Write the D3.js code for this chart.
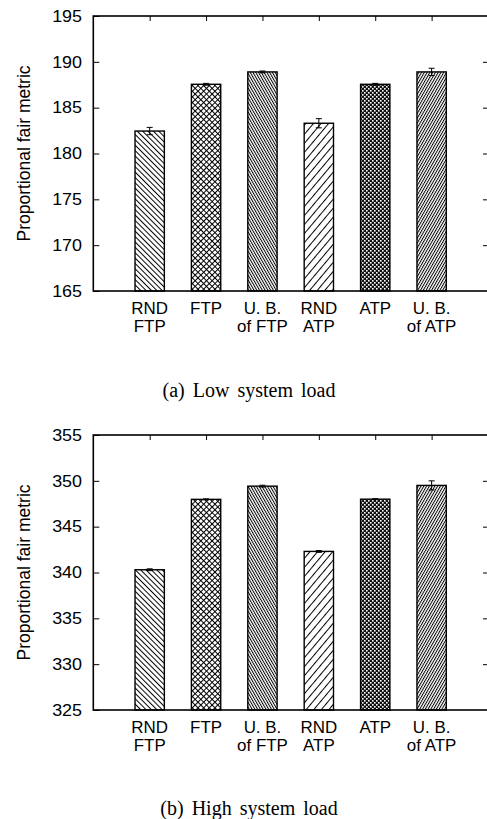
<!DOCTYPE html>
<html>
<head>
<meta charset="utf-8">
<script src="https://cdn.jsdelivr.net/npm/d3@7"></script>
<style>
  body { margin: 0; background: #fff; }
  svg { display: block; }
</style>
</head>
<body>
<svg id="chart"></svg>
<script>
// categories (two-line tick labels)
const categories = [
  ['RND', 'FTP'], ['FTP'], ['U. B.', 'of FTP'], ['RND', 'ATP'], ['ATP'], ['U. B.', 'of ATP']
];
const patterns = ['bsl', 'cross', 'bslDense', 'fsl', 'checker', 'fslDense'];

// low system load
const lowValues = [182.45, 187.55, 188.9, 183.3, 187.55, 188.9];
const lowErrors = [0.4, 0.1, 0.1, 0.5, 0.1, 0.4];
const lowTicks = [165, 170, 175, 180, 185, 190, 195];

// high system load
const highValues = [340.3, 347.98, 349.42, 342.3, 348.0, 349.5];
const highErrors = [0.1, 0.05, 0.1, 0.1, 0.05, 0.5];
const highTicks = [325, 330, 335, 340, 345, 350, 355];

const svg = d3.select('#chart').attr('width', 487).attr('height', 819);

// hatch patterns
const defs = svg.append('defs');
function hatch(id, step, angle) {
  const p = defs.append('pattern')
    .attr('id', id)
    .attr('patternUnits', 'userSpaceOnUse')
    .attr('width', step).attr('height', step)
    .attr('patternTransform', `rotate(${angle})`);
  p.append('rect').attr('width', step).attr('height', step).attr('fill', '#fff');
  p.append('line').attr('x1', 0.5).attr('x2', 0.5).attr('y1', 0).attr('y2', step)
    .attr('stroke', '#000').attr('stroke-width', 1);
}
hatch('bsl', 3.8, -45);
hatch('bslDense', 2.4, -30);
hatch('fsl', 5.8, 40);
hatch('fslDense', 2.4, 30);

const cross = defs.append('pattern')
  .attr('id', 'cross').attr('patternUnits', 'userSpaceOnUse')
  .attr('width', 4).attr('height', 4).attr('patternTransform', 'rotate(45)');
cross.append('rect').attr('width', 4).attr('height', 4).attr('fill', '#fff');
cross.append('line').attr('x1', 0.5).attr('x2', 0.5).attr('y1', 0).attr('y2', 4).attr('stroke', '#000');
cross.append('line').attr('y1', 0.5).attr('y2', 0.5).attr('x1', 0).attr('x2', 4).attr('stroke', '#000');

const checker = defs.append('pattern')
  .attr('id', 'checker').attr('patternUnits', 'userSpaceOnUse')
  .attr('width', 4).attr('height', 4);
checker.append('rect').attr('width', 4).attr('height', 4).attr('fill', '#111');
checker.append('rect').attr('x', 0).attr('y', 0).attr('width', 1.6).attr('height', 1.6).attr('fill', '#fff');
checker.append('rect').attr('x', 2).attr('y', 2).attr('width', 1.6).attr('height', 1.6).attr('fill', '#fff');

const left = 93.3, right = 488;
const xScale = d3.scaleLinear().domain([0, 7]).range([left, right]);
const barW = 0.52;
const sansFont = '16px "Liberation Sans", Arial, sans-serif';

function drawPanel(top, bottom, values, errors, ticks, caption, captionY) {
  const yScale = d3.scaleLinear()
    .domain([ticks[0], ticks[ticks.length - 1]])
    .range([bottom, top]);
  const g = svg.append('g');

  // bars
  g.selectAll('rect.bar')
    .data(values)
    .enter()
    .append('rect')
    .attr('class', 'bar')
    .attr('x', (d, i) => xScale(i + 1 - barW / 2))
    .attr('width', xScale(barW) - xScale(0))
    .attr('y', d => yScale(d))
    .attr('height', d => yScale(ticks[0]) - yScale(d))
    .attr('fill', (d, i) => `url(#${patterns[i]})`)
    .attr('stroke', '#000')
    .attr('stroke-width', 1.4);

  // error bars
  const eb = g.selectAll('g.err')
    .data(values)
    .enter()
    .append('g')
    .attr('stroke', '#000')
    .attr('stroke-width', 1);
  eb.append('line')
    .attr('x1', (d, i) => xScale(i + 1)).attr('x2', (d, i) => xScale(i + 1))
    .attr('y1', (d, i) => yScale(d - errors[i])).attr('y2', (d, i) => yScale(d + errors[i]));
  eb.append('line')
    .attr('x1', (d, i) => xScale(i + 1) - 3).attr('x2', (d, i) => xScale(i + 1) + 3)
    .attr('y1', (d, i) => yScale(d + errors[i])).attr('y2', (d, i) => yScale(d + errors[i]));
  eb.append('line')
    .attr('x1', (d, i) => xScale(i + 1) - 3).attr('x2', (d, i) => xScale(i + 1) + 3)
    .attr('y1', (d, i) => yScale(d - errors[i])).attr('y2', (d, i) => yScale(d - errors[i]));

  // left axis, inward ticks
  const yAxis = g.append('g')
    .attr('transform', `translate(${left},0)`)
    .call(d3.axisRight(yScale).tickValues(ticks).tickSize(6).tickFormat(''));
  yAxis.select('.domain').remove();
  g.selectAll('text.ytick')
    .data(ticks)
    .enter()
    .append('text')
    .attr('transform', d => `translate(82,${yScale(d)}) scale(1.12,1)`)
    .attr('dy', '0.36em')
    .attr('text-anchor', 'end')
    .style('font', sansFont)
    .text(d => d);

  // right axis mirror ticks
  const rAxis = g.append('g')
    .attr('transform', `translate(${right},0)`)
    .call(d3.axisLeft(yScale).tickValues(ticks.slice(1, -1)).tickSize(5).tickFormat(''));
  rAxis.select('.domain').remove();

  // top axis mirror ticks
  const tAxis = g.append('g')
    .attr('transform', `translate(0,${top})`)
    .call(d3.axisBottom(xScale).tickValues(d3.range(1, 7)).tickSize(5).tickFormat(''));
  tAxis.select('.domain').remove();

  // frame
  g.append('rect')
    .attr('x', left).attr('y', top)
    .attr('width', right - left).attr('height', bottom - top)
    .attr('fill', 'none').attr('stroke', '#000').attr('stroke-width', 1.6);

  // x labels
  categories.forEach((lines, i) => {
    lines.forEach((s, j) => {
      g.append('text')
        .attr('transform', `translate(${xScale(i + 1)},${bottom + 22.5 + j * 18.3}) scale(1.06,1)`)
        .attr('text-anchor', 'middle')
        .style('font', sansFont)
        .text(s);
    });
  });

  // y label
  g.append('text')
    .attr('transform', `translate(30,${(top + bottom) / 2}) rotate(-90)`)
    .attr('text-anchor', 'middle')
    .style('font', '17.5px "Liberation Sans", Arial, sans-serif')
    .text('Proportional fair metric');

  // caption
  svg.append('text')
    .attr('x', 249)
    .attr('y', captionY)
    .attr('text-anchor', 'middle')
    .style('font', '20px "Liberation Serif", "Times New Roman", serif')
    .style('word-spacing', '3px')
    .text(caption);
}

drawPanel(16, 291, lowValues, lowErrors, lowTicks, '(a) Low system load', 396.5);
drawPanel(435, 710, highValues, highErrors, highTicks, '(b) High system load', 815);
</script>
</body>
</html>
